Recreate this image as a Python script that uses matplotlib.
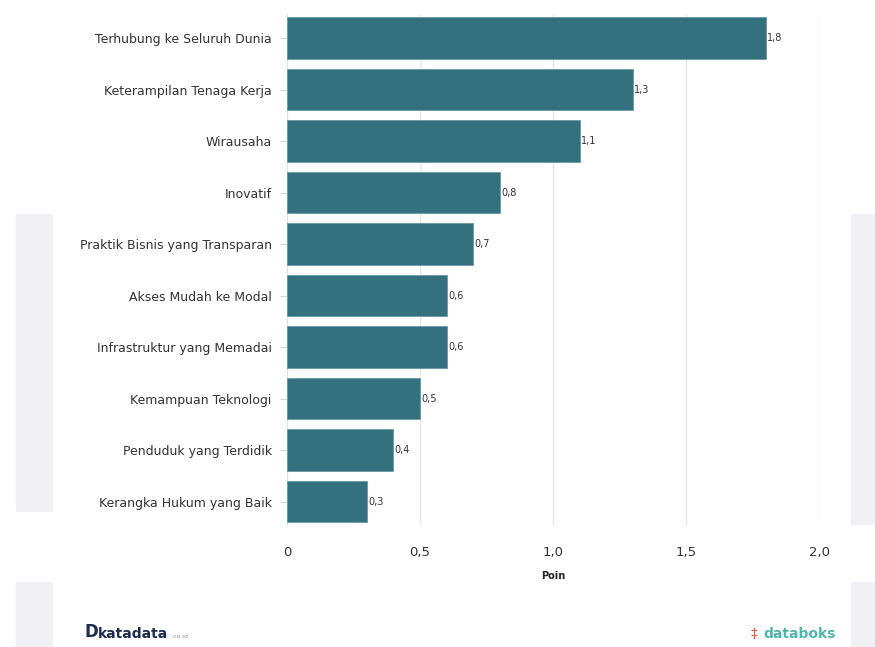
import matplotlib
matplotlib.use("Agg")
import matplotlib.pyplot as plt
from matplotlib.patches import Rectangle

categories = [
    "Terhubung ke Seluruh Dunia",
    "Keterampilan Tenaga Kerja",
    "Wirausaha",
    "Inovatif",
    "Praktik Bisnis yang Transparan",
    "Akses Mudah ke Modal",
    "Infrastruktur yang Memadai",
    "Kemampuan Teknologi",
    "Penduduk yang Terdidik",
    "Kerangka Hukum yang Baik",
]
values = [1.8, 1.3, 1.1, 0.8, 0.7, 0.6, 0.6, 0.5, 0.4, 0.3]
xticks = [0, 0.5, 1.0, 1.5, 2.0]
xtick_labels = ["0", "0,5", "1,0", "1,5", "2,0"]

plt.rcParams["font.family"] = ["DejaVu Sans"]

fig = plt.figure(figsize=(8.75, 6.47), dpi=100)
fig.patch.set_facecolor("white")

# faint watermark strips at the edges
wm = "#f0f0f5"
fig.patches.append(Rectangle((0.018, 0.21), 0.042, 0.46, transform=fig.transFigure, color=wm, zorder=-5))
fig.patches.append(Rectangle((0.018, 0.0), 0.042, 0.10, transform=fig.transFigure, color=wm, zorder=-5))
fig.patches.append(Rectangle((0.972, 0.19), 0.03, 0.48, transform=fig.transFigure, color=wm, zorder=-5))
fig.patches.append(Rectangle((0.972, 0.0), 0.03, 0.10, transform=fig.transFigure, color=wm, zorder=-5))

ax = fig.add_axes([0.328, 0.189, 0.608, 0.788])
ax.set_facecolor("white")
ax.set_zorder(2)

y = list(range(len(categories)))
ax.barh(y, values, height=0.8, color="#34717f", edgecolor="#6a98a3", linewidth=0.6, zorder=3)

for yi, v in zip(y, values):
    ax.text(v + 0.005, yi, f"{v:.1f}".replace(".", ","), va="center", ha="left",
            fontsize=7, color="#333333", zorder=4)

ax.set_yticks(y)
ax.set_yticklabels(categories, fontsize=9, color="#333333")
ax.set_ylim(9.45, -0.45)
ax.set_xlim(0, 2.0)
ax.set_xticks(xticks)
ax.set_xticklabels(xtick_labels, fontsize=9.5, color="#333333")

ax.grid(axis="x", color="#e6e6e6", linewidth=1, zorder=0)
for s in ["top", "right", "bottom"]:
    ax.spines[s].set_visible(False)
ax.spines["left"].set_color("#e0e0e0")
ax.tick_params(axis="y", length=5, color="#d8d8d8", pad=6)
ax.tick_params(axis="x", length=0, pad=15)

ax.set_xlabel("Poin", fontsize=7, fontweight="bold", color="#222222", labelpad=9)

# logos
fig.text(0.096, 0.010, "D", fontsize=12, fontweight="bold", color="#1d2b4f", ha="left", va="bottom")
fig.text(0.112, 0.010, "katadata", fontsize=10, fontweight="bold", color="#1d2b4f", ha="left", va="bottom")
fig.text(0.196, 0.012, ".co.id", fontsize=4.5, color="#8a93a8", ha="left", va="bottom")
fig.text(0.858, 0.010, "\u2021", fontsize=10, color="#e0604a", ha="left", va="bottom")
fig.text(0.872, 0.010, "databoks", fontsize=10, fontweight="bold", color="#4fb6ad", ha="left", va="bottom")

fig.savefig("out.png", dpi=100, facecolor="white")
